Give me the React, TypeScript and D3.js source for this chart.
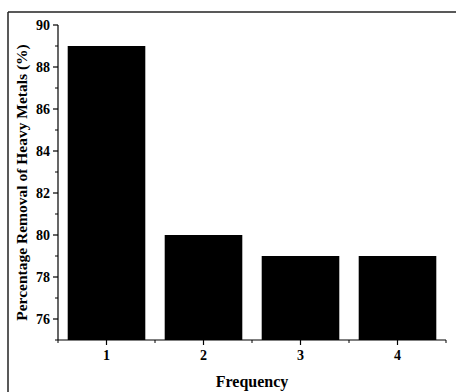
import * as d3 from 'd3';

const categories = [1, 2, 3, 4];
const removal = [89, 80, 79, 79];
const yTicks = [76, 78, 80, 82, 84, 86, 88, 90];

const W = 456, H = 392;
const font = '"Liberation Serif", "Times New Roman", serif';

export default function App() {
  const x = d3.scaleLinear().domain([0.5, 4.5]).range([58, 446]);
  const y = d3.scaleLinear().domain([75, 90]).range([340, 25]);
  const minorY = d3.range(75, 90, 1).filter(v => !yTicks.includes(v));
  const minorX = d3.range(0.5, 4.6, 1);
  const barW = x(0.8) - x(0);

  return (
    <svg width={W} height={H} style={{ position: 'absolute', left: 0, top: 0, background: '#fff' }}>
      {/* frame */}
      <line x1={8} y1={12} x2={456} y2={12} stroke="#222" strokeWidth={1.5} />
      <line x1={8} y1={12} x2={8} y2={392} stroke="#222" strokeWidth={1.5} />

      {categories.map((c, i) => (
        <rect key={c} x={x(c) - barW / 2} y={y(removal[i])} width={barW}
          height={y(75) - y(removal[i])} fill="#000" />
      ))}

      {/* y axis */}
      <line x1={x(0.5)} y1={y(75)} x2={x(0.5)} y2={y(90)} stroke="#000" strokeWidth={1.2} />
      {yTicks.map(t => (
        <g key={t}>
          <line x1={x(0.5) - 5} x2={x(0.5)} y1={y(t)} y2={y(t)} stroke="#000" strokeWidth={1.2} />
          <text x={x(0.5) - 8} y={y(t)} dy="0.35em" textAnchor="end" fontFamily={font}
            fontWeight="bold" fontSize={14}>{t}</text>
        </g>
      ))}
      {minorY.map(t => (
        <line key={t} x1={x(0.5) - 3} x2={x(0.5)} y1={y(t)} y2={y(t)} stroke="#000" strokeWidth={1} />
      ))}

      {/* x axis */}
      <line x1={x(0.5)} y1={y(75)} x2={x(4.5)} y2={y(75)} stroke="#000" strokeWidth={1.2} />
      {categories.map(c => (
        <g key={c}>
          <line x1={x(c)} x2={x(c)} y1={y(75)} y2={y(75) + 5} stroke="#000" strokeWidth={1.2} />
          <text x={x(c)} y={y(75) + 20} textAnchor="middle" fontFamily={font}
            fontWeight="bold" fontSize={14}>{c}</text>
        </g>
      ))}
      {minorX.map(t => (
        <line key={t} x1={x(t)} x2={x(t)} y1={y(75)} y2={y(75) + 3} stroke="#000" strokeWidth={1} />
      ))}

      <text x={(x(0.5) + x(4.5)) / 2} y={387} textAnchor="middle" fontFamily={font}
        fontWeight="bold" fontSize={16}>Frequency</text>
      <text transform={`translate(27,${(y(75) + y(90)) / 2}) rotate(-90)`} textAnchor="middle"
        fontFamily={font} fontWeight="bold" fontSize={15.5}>Percentage Removal of Heavy Metals (%)</text>
    </svg>
  );
}
